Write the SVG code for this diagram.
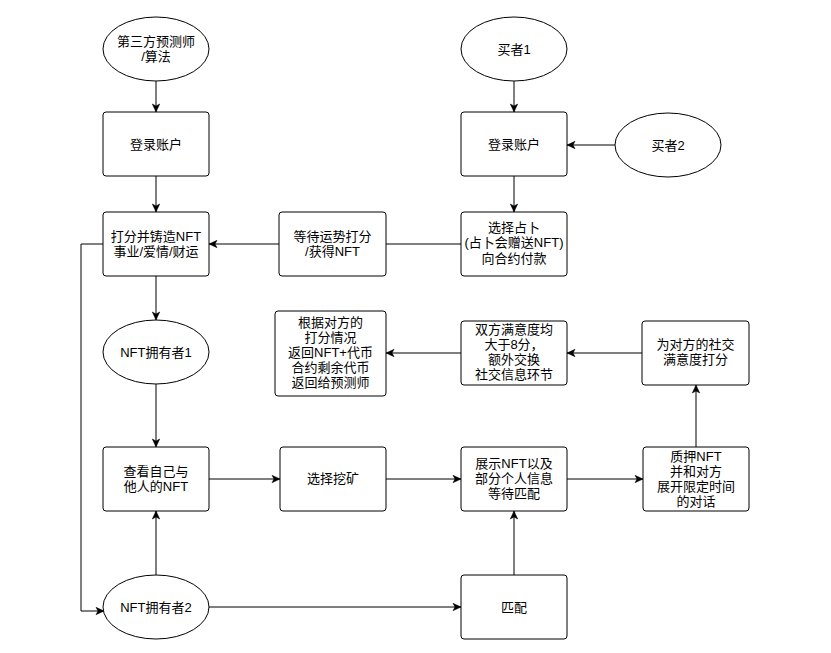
<svg xmlns="http://www.w3.org/2000/svg" width="831" height="653" viewBox="0 0 831 653">
<defs>
<style>
.n{fill:#fff;stroke:#000;stroke-width:1}
.t{font-family:"Liberation Sans","Noto Sans CJK SC",sans-serif;font-size:13px;fill:#000;text-anchor:middle;dominant-baseline:central}
.c{fill:none;stroke:#000;stroke-width:1}
.a{marker-end:url(#arr)}
</style>
<marker id="arr" markerUnits="userSpaceOnUse" markerWidth="10" markerHeight="10" viewBox="-10 -5 10 10" refX="0" refY="0" orient="auto">
<path d="M-8,-3.7 L0,0 L-8,3.7 L-6,0 Z" fill="#000" stroke="#000" stroke-width="0.5"/>
</marker>
</defs>
<rect width="831" height="653" fill="#fff"/>
<g id="connectors">
<path class="c a" d="M156,81 V112"/>
<path class="c a" d="M156,176 V212"/>
<path class="c a" d="M156,276 V320"/>
<path class="c a" d="M156,384 V447"/>
<path class="c a" d="M514,81 V112"/>
<path class="c a" d="M615,145 H567"/>
<path class="c a" d="M514,176 V212"/>
<path class="c" d="M461,244 H386"/>
<path class="c a" d="M279,244 H209"/>
<path class="c a" d="M103,244 H81 V611 H104"/>
<path class="c a" d="M209,479 H280"/>
<path class="c a" d="M386,479 H461"/>
<path class="c a" d="M567,479 H643"/>
<path class="c a" d="M696,447 V385"/>
<path class="c a" d="M642,353 H567"/>
<path class="c a" d="M461,353 H386"/>
<path class="c a" d="M156,576 V511"/>
<path class="c a" d="M209,607 H461"/>
<path class="c a" d="M514,575 V511"/>
</g>
<g id="predictor">
<ellipse class="n" cx="156" cy="49" rx="53" ry="32"/>
<text class="t" x="156" y="41.5">第三方预测师</text>
<text class="t" x="156" y="56.5">/算法</text>
</g>
<g id="login1">
<rect class="n" x="103" y="112" width="106" height="64" rx="3"/>
<text class="t" x="156" y="144">登录账户</text>
</g>
<g id="mint">
<rect class="n" x="103" y="212" width="106" height="64" rx="3"/>
<text class="t" x="156" y="236.5">打分并铸造NFT</text>
<text class="t" x="156" y="251.5">事业/爱情/财运</text>
</g>
<g id="wait">
<rect class="n" x="279" y="212" width="107" height="64" rx="3"/>
<text class="t" x="332.5" y="236.5">等待运势打分</text>
<text class="t" x="332.5" y="251.5">/获得NFT</text>
</g>
<g id="buyer1">
<ellipse class="n" cx="514" cy="49" rx="53" ry="32"/>
<text class="t" x="514" y="49">买者1</text>
</g>
<g id="login2">
<rect class="n" x="461" y="112" width="106" height="64" rx="3"/>
<text class="t" x="514" y="144">登录账户</text>
</g>
<g id="buyer2">
<ellipse class="n" cx="668" cy="145" rx="53" ry="32"/>
<text class="t" x="668" y="145">买者2</text>
</g>
<g id="divine">
<rect class="n" x="461" y="212" width="106" height="64" rx="3"/>
<text class="t" x="514" y="227">选择占卜</text>
<text class="t" x="514" y="242.5">(占卜会赠送NFT)</text>
<text class="t" x="514" y="258">向合约付款</text>
</g>
<g id="owner1">
<ellipse class="n" cx="156" cy="352" rx="53" ry="32"/>
<text class="t" x="156" y="352">NFT拥有者1</text>
</g>
<g id="return">
<rect class="n" x="275" y="311" width="111" height="85" rx="3"/>
<text class="t" x="330.5" y="322">根据对方的</text>
<text class="t" x="330.5" y="337">打分情况</text>
<text class="t" x="330.5" y="352">返回NFT+代币</text>
<text class="t" x="330.5" y="367">合约剩余代币</text>
<text class="t" x="330.5" y="382">返回给预测师</text>
</g>
<g id="satisfy">
<rect class="n" x="461" y="321" width="106" height="64" rx="3"/>
<text class="t" x="514" y="329.5">双方满意度均</text>
<text class="t" x="514" y="344.5">大于8分，</text>
<text class="t" x="514" y="359.5">额外交换</text>
<text class="t" x="514" y="374.5">社交信息环节</text>
</g>
<g id="rate">
<rect class="n" x="642" y="321" width="107" height="64" rx="3"/>
<text class="t" x="695.5" y="344">为对方的社交</text>
<text class="t" x="695.5" y="359">满意度打分</text>
</g>
<g id="view">
<rect class="n" x="103" y="447" width="106" height="64" rx="3"/>
<text class="t" x="156" y="471">查看自己与</text>
<text class="t" x="156" y="486">他人的NFT</text>
</g>
<g id="mine">
<rect class="n" x="280" y="447" width="106" height="64" rx="3"/>
<text class="t" x="333" y="478">选择挖矿</text>
</g>
<g id="show">
<rect class="n" x="461" y="447" width="106" height="64" rx="3"/>
<text class="t" x="514" y="463">展示NFT以及</text>
<text class="t" x="514" y="478">部分个人信息</text>
<text class="t" x="514" y="493">等待匹配</text>
</g>
<g id="stake">
<rect class="n" x="643" y="447" width="106" height="64" rx="3"/>
<text class="t" x="696" y="456">质押NFT</text>
<text class="t" x="696" y="471">并和对方</text>
<text class="t" x="696" y="486">展开限定时间</text>
<text class="t" x="696" y="501">的对话</text>
</g>
<g id="owner2">
<ellipse class="n" cx="156" cy="607" rx="53" ry="32"/>
<text class="t" x="156" y="607">NFT拥有者2</text>
</g>
<g id="match">
<rect class="n" x="461" y="575" width="106" height="64" rx="3"/>
<text class="t" x="514" y="607">匹配</text>
</g>
</svg>
